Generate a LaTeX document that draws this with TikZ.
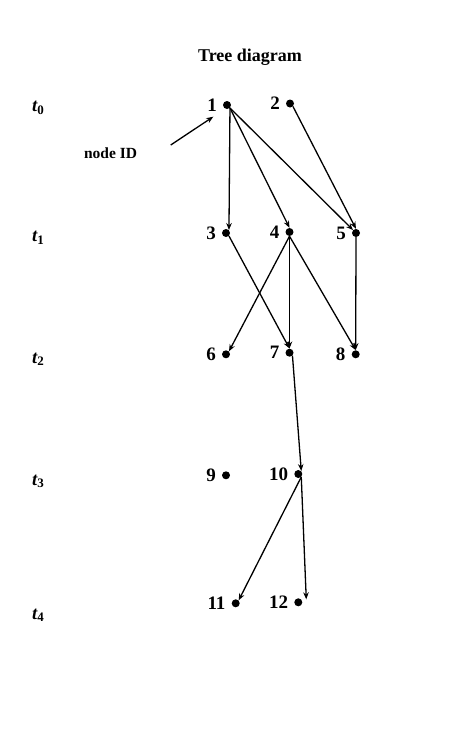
\documentclass[tikz,border=0pt]{standalone}
\usepackage{fontspec}
\setmainfont{Liberation Serif}
\usetikzlibrary{arrows.meta}
\begin{document}
\begin{tikzpicture}[x=1pt,y=-1pt,
  dot/.style={circle,fill=black,minimum size=8pt,inner sep=0pt},
  num/.style={font=\fontsize{19}{21}\selectfont\bfseries},
  tlab/.style={font=\fontsize{18.5}{20}\selectfont\bfseries\itshape,anchor=base west,inner sep=0pt},
  edge/.style={line width=1.3pt,-{Stealth[length=7pt,width=5.5pt]}}]
\useasboundingbox (0,0) rectangle (474,729);
% title
\node[font=\fontsize{18}{20}\selectfont\bfseries,anchor=base] (title) at (250,61) {Tree diagram};
% time labels
\node[tlab] (t0) at (32,111.7) {t\textsubscript{\upshape 0}};
\node[tlab] (t1) at (32,241.7) {t\textsubscript{\upshape 1}};
\node[tlab] (t2) at (32,363.3) {t\textsubscript{\upshape 2}};
\node[tlab] (t3) at (32,485) {t\textsubscript{\upshape 3}};
\node[tlab] (t4) at (32,619) {t\textsubscript{\upshape 4}};
% node ID
\node[font=\fontsize{15.5}{17}\selectfont\bfseries,anchor=base] (nid) at (110.5,158.5) {node ID};
\coordinate (ns) at (170.7,145);
\coordinate (ne) at (213.3,116.7);
\draw[edge] (ns) -- (ne);
% dots
\node[dot,label={[num,label distance=2.5pt]left:1}] (d1) at (227,105) {};
\node[dot,label={[num,label distance=2.5pt]left:2}] (d2) at (290,103.5) {};
\node[dot,label={[num,label distance=2.5pt]left:3}] (d3) at (226,233) {};
\node[dot,label={[num,label distance=2.5pt]left:4}] (d4) at (289.5,232) {};
\node[dot,label={[num,label distance=2.5pt]left:5}] (d5) at (356,233) {};
\node[dot,label={[num,label distance=2.5pt]left:6}] (d6) at (226,354.3) {};
\node[dot,label={[num,label distance=2.5pt]left:7}] (d7) at (289.5,352.7) {};
\node[dot,label={[num,label distance=2.5pt]left:8}] (d8) at (355.7,354.3) {};
\node[dot,label={[num,label distance=2.5pt]left:9}] (d9) at (226,475.3) {};
\node[dot,label={[num,label distance=2.5pt]left:10}] (d10) at (298.3,474) {};
\node[dot,label={[num,label distance=2.5pt]left:11}] (d11) at (235.7,603.3) {};
\node[dot,label={[num,label distance=2.5pt]left:12}] (d12) at (298.3,602.3) {};
% edges
\draw[edge] (d1.south east) -- (d3.north east);
\draw[edge] (d1.south east) -- (d4.north);
\draw[edge] (d1.south east) -- (d5.north west);
\draw[edge] (d2.south east) -- (d5.north);
\draw[edge] (d3.south east) -- (d7.north);
\draw[edge] (d4.south) -- (d6.north east);
\draw[edge] (d4.south) -- (d7.north);
\draw[edge] (d4.south) -- (d8.north);
\draw[edge] (d5.south) -- (d8.north);
\draw[edge] (d7.south east) -- (d10.north east);
\draw[edge] (d10.south east) -- (d11.north east);
\draw[edge] (d10.south east) -- ([xshift=5pt]d12.north east);
\end{tikzpicture}
\end{document}
